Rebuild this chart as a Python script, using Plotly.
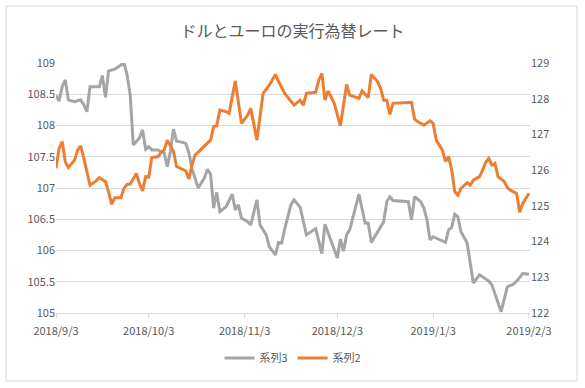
import plotly.graph_objects as go

title_text = "ドルとユーロの実行為替レート"
series3_name = "系列3"
series2_name = "系列2"

# 系列3 (left axis)
dates3 = ["2018-09-03","2018-09-04","2018-09-05","2018-09-06","2018-09-07","2018-09-09","2018-09-11","2018-09-12",
          "2018-09-13","2018-09-14","2018-09-17","2018-09-18","2018-09-19","2018-09-20","2018-09-22","2018-09-24",
          "2018-09-25","2018-09-26","2018-09-27","2018-09-28","2018-09-30","2018-10-01","2018-10-02","2018-10-03",
          "2018-10-04","2018-10-06","2018-10-07","2018-10-08","2018-10-09","2018-10-10","2018-10-11","2018-10-12",
          "2018-10-14","2018-10-15","2018-10-16","2018-10-17","2018-10-19","2018-10-21","2018-10-22","2018-10-23",
          "2018-10-24","2018-10-25","2018-10-26","2018-10-28","2018-10-30","2018-10-31","2018-11-01","2018-11-02",
          "2018-11-04","2018-11-05","2018-11-07","2018-11-08","2018-11-10","2018-11-11","2018-11-13","2018-11-14",
          "2018-11-15","2018-11-16","2018-11-18","2018-11-19","2018-11-21","2018-11-23","2018-11-26","2018-11-28",
          "2018-11-29","2018-12-01","2018-12-03","2018-12-04","2018-12-05","2018-12-06","2018-12-07","2018-12-10",
          "2018-12-12","2018-12-13","2018-12-14","2018-12-18","2018-12-19","2018-12-20","2018-12-21","2018-12-26",
          "2018-12-27","2018-12-28","2018-12-30","2018-12-31","2019-01-01","2019-01-02","2019-01-03","2019-01-07",
          "2019-01-08","2019-01-09","2019-01-10","2019-01-11","2019-01-12","2019-01-14","2019-01-16","2019-01-18",
          "2019-01-21","2019-01-22","2019-01-25","2019-01-27","2019-01-29","2019-01-30","2019-02-01","2019-02-03"]
values3 = [108.48,108.39,108.62,108.73,108.41,108.38,108.41,108.33,
           108.22,108.62,108.62,108.80,108.45,108.87,108.90,108.97,
           109.00,108.81,108.49,107.69,107.80,107.93,107.62,107.66,
           107.61,107.61,107.58,107.56,107.34,107.58,107.94,107.75,
           107.73,107.71,107.56,107.31,107.00,107.16,107.30,107.22,
           106.68,106.93,106.62,106.70,106.90,106.65,106.73,106.52,
           106.46,106.41,106.81,106.41,106.25,106.06,105.93,106.13,
           106.12,106.35,106.73,106.81,106.69,106.25,106.35,105.95,
           106.42,106.14,105.88,106.18,105.99,106.25,106.33,106.90,
           106.44,106.44,106.13,106.46,106.78,106.86,106.80,106.78,
           106.49,106.86,106.78,106.68,106.49,106.17,106.22,106.13,
           106.33,106.37,106.58,106.54,106.30,106.12,105.48,105.61,
           105.51,105.45,105.02,105.42,105.46,105.51,105.63,105.62]

# 系列2 (right axis)
dates2 = ["2018-09-03","2018-09-04","2018-09-05","2018-09-06","2018-09-07","2018-09-09","2018-09-10","2018-09-11",
          "2018-09-12","2018-09-14","2018-09-16","2018-09-17","2018-09-19","2018-09-20","2018-09-21","2018-09-22",
          "2018-09-24","2018-09-25","2018-09-26","2018-09-27","2018-09-28","2018-09-29","2018-09-30","2018-10-01",
          "2018-10-02","2018-10-03","2018-10-04","2018-10-06","2018-10-07","2018-10-08","2018-10-09","2018-10-11",
          "2018-10-12","2018-10-14","2018-10-15","2018-10-16","2018-10-17","2018-10-18","2018-10-21","2018-10-23",
          "2018-10-24","2018-10-25","2018-10-26","2018-10-28","2018-10-29","2018-10-31","2018-11-02","2018-11-04",
          "2018-11-05","2018-11-07","2018-11-09","2018-11-11","2018-11-13","2018-11-14","2018-11-16","2018-11-18",
          "2018-11-19","2018-11-21","2018-11-22","2018-11-23","2018-11-26","2018-11-27","2018-11-28","2018-11-29",
          "2018-11-30","2018-12-02","2018-12-03","2018-12-04","2018-12-06","2018-12-07","2018-12-10","2018-12-11",
          "2018-12-13","2018-12-14","2018-12-16","2018-12-17","2018-12-18","2018-12-19","2018-12-20","2018-12-21",
          "2018-12-27","2018-12-28","2018-12-29","2018-12-31","2019-01-02","2019-01-03","2019-01-04","2019-01-06",
          "2019-01-07","2019-01-08","2019-01-09","2019-01-10","2019-01-11","2019-01-12","2019-01-14","2019-01-15",
          "2019-01-16","2019-01-18","2019-01-19","2019-01-20","2019-01-21","2019-01-22","2019-01-23","2019-01-24",
          "2019-01-26","2019-01-27","2019-01-28","2019-01-30","2019-01-31","2019-02-01","2019-02-02","2019-02-03"]
values2 = [126.05,126.61,126.80,126.24,126.07,126.28,126.56,126.68,
           126.33,125.58,125.70,125.79,125.68,125.40,125.04,125.23,
           125.23,125.49,125.60,125.61,125.75,125.91,125.62,125.42,
           125.82,125.80,126.35,126.38,126.50,126.56,126.84,126.52,
           126.10,126.03,125.98,125.75,126.14,126.42,126.66,126.84,
           127.22,127.24,127.68,127.64,127.59,128.50,127.31,127.54,
           127.73,126.84,128.15,128.38,128.68,128.48,128.15,127.92,
           127.82,127.96,127.82,128.15,128.18,128.52,128.71,127.96,
           128.22,127.87,127.54,127.24,128.40,128.10,128.01,128.22,
           128.03,128.68,128.48,128.29,127.96,127.96,127.56,127.87,
           127.90,127.43,127.36,127.26,127.38,127.31,126.84,126.56,
           126.24,126.38,126.00,125.40,125.30,125.49,125.65,125.58,
           125.72,125.82,126.00,126.22,126.33,126.14,126.19,125.82,
           125.68,125.51,125.44,125.35,124.82,125.07,125.21,125.35]

x_tickvals = ["2018-09-03","2018-10-03","2018-11-03","2018-12-03","2019-01-03","2019-02-03"]
x_ticktext = ["2018/9/3","2018/10/3","2018/11/3","2018/12/3","2019/1/3","2019/2/3"]

gray = "#A5A5A5"
orange = "#ED7D31"
text_col = "#595959"
grid_col = "#D9D9D9"
font_fam = "Noto Sans CJK JP"

fig = go.Figure()
fig.add_trace(go.Scatter(x=dates3, y=values3, name=series3_name, mode="lines",
                         line=dict(color=gray, width=3), yaxis="y"))
fig.add_trace(go.Scatter(x=dates2, y=values2, name=series2_name, mode="lines",
                         line=dict(color=orange, width=3), yaxis="y2"))

fig.update_layout(
    width=585, height=388,
    margin=dict(l=56, r=55, t=63, b=75),
    paper_bgcolor="white", plot_bgcolor="white",
    font=dict(family=font_fam, color=text_col, size=11),
    title=dict(text=title_text, x=0.5, xanchor="center", y=1 - 31/388, yanchor="middle",
               yref="container", font=dict(family=font_fam, size=16, color=text_col)),
    xaxis=dict(type="date", range=["2018-09-03", "2019-02-03 08:00"],
               tickvals=x_tickvals, ticktext=x_ticktext, showgrid=False,
               showline=True, linecolor=grid_col, linewidth=1,
               ticks="outside", ticklen=4, tickcolor=grid_col, ticklabelstandoff=4,
               tickfont=dict(size=11, color=text_col), zeroline=False),
    yaxis=dict(range=[105, 109], dtick=0.5, tick0=105, showgrid=True, gridcolor=grid_col,
               gridwidth=1, zeroline=False, showline=False, ticks="",
               tickfont=dict(size=11, color=text_col)),
    yaxis2=dict(range=[122, 129], dtick=1, tick0=122, overlaying="y", side="right",
                showgrid=False, zeroline=False, showline=False, ticks="",
                tickfont=dict(size=11, color=text_col)),
    legend=dict(orientation="h", x=0.5, xanchor="center", y=(313 - 358) / 250, yanchor="middle",
                font=dict(size=11, color=text_col), bgcolor="rgba(0,0,0,0)"),
    shapes=[dict(type="rect", xref="paper", yref="paper",
                 x0=(6 - 56) / 474, x1=(577 - 56) / 474,
                 y0=(313 - 381) / 250, y1=(313 - 6) / 250,
                 line=dict(color=grid_col, width=1), fillcolor="rgba(0,0,0,0)", layer="above")],
)

fig.write_html("out.html", config={"displayModeBar": False},
               post_script="document.body.style.margin='0';document.body.style.padding='0';")
